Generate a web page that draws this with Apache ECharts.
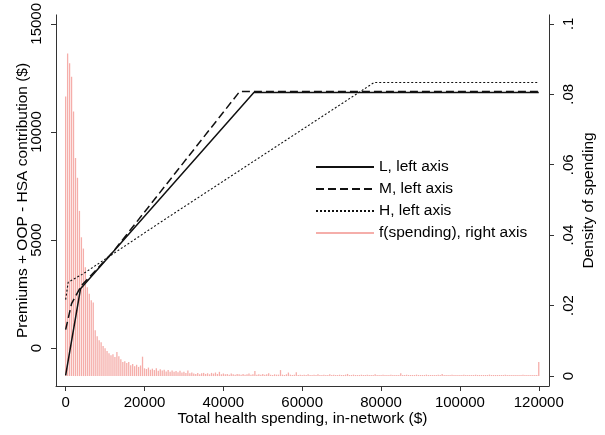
<!DOCTYPE html>
<html>
<head>
<meta charset="utf-8">
<script src="https://cdn.jsdelivr.net/npm/echarts@6/dist/echarts.min.js"></script>
<style>
  html, body { margin: 0; padding: 0; background: #fff; }
  #chart { width: 605px; height: 435px; }
</style>
</head>
<body>
<div id="chart"></div>
<script>
// histogram of spending, bins of $500 starting at 0
const binWidth = 500;
const density = [
  0.0794, 0.0916, 0.0888, 0.0850, 0.0751, 0.0619, 0.0563, 0.0469, 0.0394, 0.0362,
  0.0309, 0.0252, 0.0234, 0.0215, 0.0209, 0.0130, 0.0113, 0.0102, 0.0096, 0.0085,
  0.0079, 0.0071, 0.0065, 0.0059, 0.0062, 0.0054, 0.0068, 0.0056, 0.0048, 0.0040,
  0.0042, 0.0037, 0.0040, 0.0031, 0.0034, 0.0028, 0.0032, 0.0026, 0.0030, 0.0055,
  0.0022, 0.0020, 0.0024, 0.0018, 0.0021, 0.0017, 0.0022, 0.0015, 0.0019, 0.0016,
  0.0018, 0.0013, 0.0017, 0.0012, 0.0016, 0.0012, 0.0014, 0.0011, 0.0015, 0.0010,
  0.0012, 0.0009, 0.0016, 0.0008, 0.0010, 0.0007, 0.0006, 0.0009, 0.0005, 0.0008,
  0.0009, 0.0006, 0.0008, 0.0005, 0.0009, 0.0007, 0.0010, 0.0006, 0.0012, 0.0005,
  0.0007, 0.0005, 0.0006, 0.0004, 0.0007, 0.0005, 0.0004, 0.0006, 0.0005, 0.0004,
  0.0006, 0.0004, 0.0005, 0.0007, 0.0004, 0.0005, 0.0014, 0.0004, 0.0005, 0.0004,
  0.0006, 0.0004, 0.0005, 0.0008, 0.0004, 0.0003, 0.0005, 0.0004, 0.0004, 0.0017,
  0.0004, 0.0003, 0.0005, 0.0010, 0.0004, 0.0003, 0.0004, 0.0011, 0.0003, 0.0004,
  0.0003, 0.0004, 0.0003, 0.0005, 0.0003, 0.0003, 0.0004, 0.0003, 0.0005, 0.0003,
  0.0003, 0.0004, 0.0003, 0.0003, 0.0005, 0.0003, 0.0004, 0.0003, 0.0003, 0.0004,
  0.0003, 0.0003, 0.0004, 0.0006, 0.0003, 0.0003, 0.0004, 0.0003, 0.0003, 0.0003,
  0.0004, 0.0003, 0.0003, 0.0004, 0.0003, 0.0003, 0.0003, 0.0005, 0.0003, 0.0003,
  0.0003, 0.0004, 0.0003, 0.0003, 0.0003, 0.0004, 0.0003, 0.0003, 0.0003, 0.0003,
  0.0008, 0.0003, 0.0003, 0.0004, 0.0003, 0.0003, 0.0003, 0.0003, 0.0004, 0.0003,
  0.0003, 0.0003, 0.0003, 0.0004, 0.0003, 0.0003, 0.0003, 0.0003, 0.0003, 0.0004,
  0.0003, 0.0006, 0.0003, 0.0003, 0.0003, 0.0003, 0.0004, 0.0003, 0.0003, 0.0003,
  0.0003, 0.0003, 0.0004, 0.0003, 0.0003, 0.0003, 0.0003, 0.0003, 0.0004, 0.0003,
  0.0003, 0.0003, 0.0003, 0.0003, 0.0003, 0.0004, 0.0003, 0.0003, 0.0003, 0.0003,
  0.0003, 0.0003, 0.0003, 0.0004, 0.0003, 0.0003, 0.0003, 0.0003, 0.0003, 0.0003,
  0.0003, 0.0003, 0.0004, 0.0003, 0.0003, 0.0003, 0.0003, 0.0003, 0.0003, 0.0003,
  0.0040
];

// net cost curves (premiums + OOP - HSA), breakpoints
const lSpend = [0, 3780, 47740, 120000];
const lCost = [-1260, 2750, 11830, 11830];
const mSpend = [0, 1500, 4000, 12000, 44140, 120000];
const mCost = [860, 2060, 2900, 4450, 11870, 11870];
const hSpend = [0, 650, 4440, 24600, 78260, 120000];
const hCost = [2250, 3050, 3440, 5890, 12290, 12290];

const xTicks = [0, 20000, 40000, 60000, 80000, 100000, 120000];
const leftTicks = [0, 5000, 10000, 15000];
const rightTicks = [0, 0.02, 0.04, 0.06, 0.08, 0.1];

const font = "'Liberation Sans', Arial, Helvetica, sans-serif";
const axisColor = "#333";

const chart = echarts.init(document.getElementById("chart"));

const pairs = (xs, ys) => xs.map((x, i) => [x, ys[i]]);
const plain = (v) => String(v);

const lineSeries = (name, xs, ys, type, width) => ({
  name,
  type: "line",
  yAxisIndex: 0,
  symbol: "none",
  data: pairs(xs, ys),
  lineStyle: { color: "#111", width, type },
  itemStyle: { color: "#111" },
  z: 3,
});

const option = {
  animation: false,
  textStyle: { fontFamily: font },
  grid: { left: 56, right: 53, top: 13, bottom: 49 },
  legend: {
    orient: "vertical",
    left: 315,
    top: 159,
    padding: 0,
    itemWidth: 58,
    itemHeight: 2,
    itemGap: 6,
    textStyle: { fontFamily: font, fontSize: 15.5, color: "#000", lineHeight: 16 },
    data: [
      "L, left axis",
      "M, left axis",
      "H, left axis",
      { name: "f(spending), right axis", icon: "rect" },
    ],
  },
  xAxis: {
    type: "value",
    min: -2446,
    max: 122598,
    name: "Total health spending, in-network ($)",
    nameLocation: "middle",
    nameGap: 25,
    nameMoveOverlap: false,
    nameTextStyle: { fontFamily: font, fontSize: 15.5, color: "#000" },
    axisLine: { onZero: false, lineStyle: { color: axisColor, width: 1 } },
    axisTick: { length: 5, customValues: xTicks, lineStyle: { color: axisColor } },
    axisLabel: { customValues: xTicks, margin: 9, fontSize: 15, color: "#000", fontFamily: font, formatter: plain },
    splitLine: { show: false },
  },
  yAxis: [
    {
      type: "value",
      position: "left",
      min: -1748,
      max: 15414,
      name: "Premiums + OOP - HSA contribution ($)",
      nameLocation: "middle",
      nameGap: 25,
      nameMoveOverlap: false,
      nameTextStyle: { fontFamily: font, fontSize: 15.5, color: "#000" },
      axisLine: { show: true, onZero: false, lineStyle: { color: axisColor, width: 1 } },
      axisTick: { show: true, length: 5, customValues: leftTicks, lineStyle: { color: axisColor } },
      axisLabel: { customValues: leftTicks, rotate: 90, margin: 12, fontSize: 15, color: "#000", fontFamily: font, formatter: plain },
      splitLine: { show: false },
    },
    {
      type: "value",
      position: "right",
      min: -0.002825,
      max: 0.102542,
      name: "Density of spending",
      nameLocation: "middle",
      nameGap: 32,
      nameMoveOverlap: false,
      nameTextStyle: { fontFamily: font, fontSize: 15.5, color: "#000" },
      axisLine: { show: true, onZero: false, lineStyle: { color: axisColor, width: 1 } },
      axisTick: { show: true, length: 5, customValues: rightTicks, lineStyle: { color: axisColor } },
      axisLabel: {
        customValues: rightTicks,
        rotate: 90,
        margin: 12,
        fontSize: 15,
        color: "#000",
        fontFamily: font,
        formatter: (v) => (v === 0 ? "0" : String(+v.toFixed(3)).replace(/^0/, "")),
      },
      splitLine: { show: false },
    },
  ],
  series: [
    {
      name: "f(spending), right axis",
      type: "bar",
      yAxisIndex: 1,
      barWidth: 1.3,
      data: density.map((d, i) => [i * binWidth, d]),
      itemStyle: { color: "#f5aeaa" },
      z: 1,
    },
    lineSeries("L, left axis", lSpend, lCost, "solid", 1.5),
    lineSeries("M, left axis", mSpend, mCost, [8, 4], 1.5),
    lineSeries("H, left axis", hSpend, hCost, [2, 2], 1.1),
  ],
};

chart.setOption(option);
</script>
</body>
</html>
